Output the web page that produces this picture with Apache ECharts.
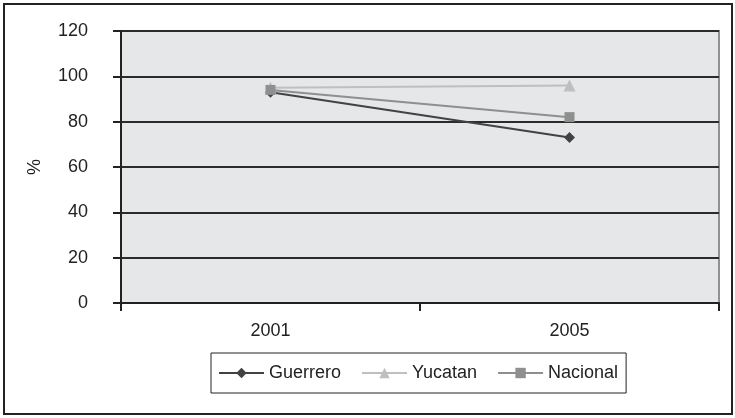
<!DOCTYPE html>
<html>
<head>
<meta charset="utf-8">
<script src="https://cdn.jsdelivr.net/npm/echarts@6/dist/echarts.min.js"></script>
<style>
  html, body { margin: 0; padding: 0; background: #fff; }
  #chart-container { width: 735px; height: 418px; }
</style>
</head>
<body>
<div id="chart-container"></div>
<script>
var years = ['2001', '2005'];
var guerrero = [93, 73];
var yucatan = [95, 96];
var nacional = [94, 82];
var yTicks = { min: 0, max: 120, interval: 20 };

var dom = document.getElementById('chart-container');
var myChart = echarts.init(dom, null, { renderer: 'canvas' });

var font = 'Liberation Sans, Arial, sans-serif';

var option = {
  animation: false,
  textStyle: { fontFamily: font },
  graphic: [
    {
      type: 'rect',
      shape: { x: 4, y: 4, width: 728, height: 410 },
      style: { fill: 'none', stroke: '#222', lineWidth: 2 },
      z: 0
    }
  ],
  grid: {
    left: 121, top: 31, right: 16, bottom: 115,
    show: true,
    backgroundColor: '#e6e7e8',
    borderColor: '#8e9397',
    borderWidth: 2
  },
  legend: {
    data: ['Guerrero', 'Yucatan', 'Nacional'],
    left: 211, top: 353,
    padding: [11, 8, 11, 7],
    borderColor: '#222', borderWidth: 1,
    itemWidth: 45, itemHeight: 13, itemGap: 20,
    textStyle: { fontSize: 18, color: '#222', fontFamily: font }
  },
  xAxis: {
    type: 'category',
    data: years,
    boundaryGap: true,
    axisLine: { lineStyle: { color: '#222', width: 2 } },
    axisTick: { show: true, length: 8, lineStyle: { color: '#222', width: 2 } },
    axisLabel: { fontSize: 18, color: '#222', margin: 19 },
    splitLine: { show: false }
  },
  yAxis: {
    type: 'value',
    min: yTicks.min, max: yTicks.max, interval: yTicks.interval,
    name: '%',
    nameLocation: 'middle',
    nameGap: 77,
    nameRotate: 90,
    nameTextStyle: { fontSize: 18, color: '#222' },
    axisLine: { show: true, lineStyle: { color: '#222', width: 2 } },
    axisTick: { show: true, length: 8, lineStyle: { color: '#222', width: 2 } },
    axisLabel: { fontSize: 18, color: '#222', margin: 33 },
    splitLine: { show: true, lineStyle: { color: '#2b2b2b', width: 2 } }
  },
  series: [
    {
      name: 'Guerrero',
      type: 'line',
      data: guerrero,
      symbol: 'diamond',
      symbolSize: 11,
      color: '#424242',
      lineStyle: { width: 2, color: '#424242' },
      itemStyle: { color: '#424242' }
    },
    {
      name: 'Yucatan',
      type: 'line',
      data: yucatan,
      symbol: 'triangle',
      symbolSize: 12,
      color: '#bfbfbf',
      lineStyle: { width: 2, color: '#bfbfbf' },
      itemStyle: { color: '#bfbfbf' }
    },
    {
      name: 'Nacional',
      type: 'line',
      data: nacional,
      symbol: 'rect',
      symbolSize: 10,
      color: '#8f8f8f',
      lineStyle: { width: 2, color: '#8f8f8f' },
      itemStyle: { color: '#8f8f8f' }
    }
  ]
};

myChart.setOption(option);
window.addEventListener('resize', myChart.resize);
</script>
</body>
</html>
